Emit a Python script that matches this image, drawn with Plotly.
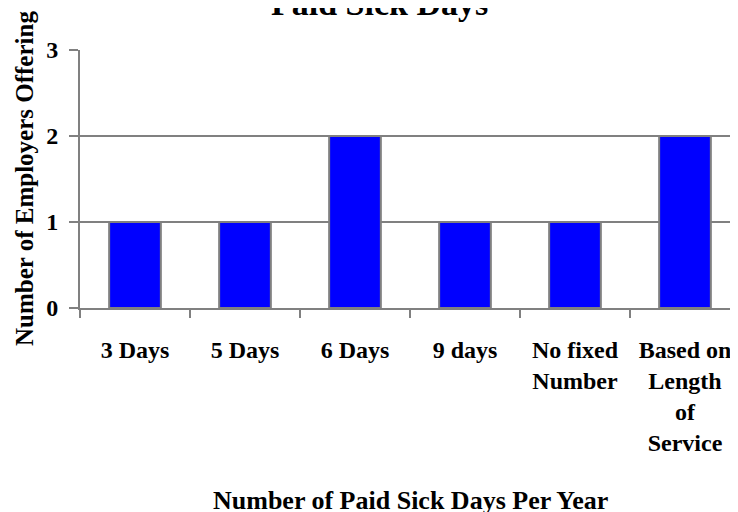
import plotly.graph_objects as go

# Paid sick days survey
categories = ["3 Days", "5 Days", "6 Days", "9 days", "No fixed<br>Number",
              "Based on<br>Length<br>of<br>Service"]
employers = [1, 1, 2, 1, 1, 2]
y_ticks = [0, 1, 2, 3]

FONT = "Liberation Serif, Times New Roman, serif"
GREY = "#808080"

fig = go.Figure()
fig.add_trace(
    go.Bar(
        x=categories,
        y=employers,
        marker=dict(color="#0000FF", line=dict(color=GREY, width=2)),
        width=0.47,
    )
)

# page body adds an 8px offset, so margins are trimmed by 8
fig.update_layout(
    width=738,
    height=512,
    margin=dict(l=72, r=6, t=42, b=212),
    paper_bgcolor="white",
    plot_bgcolor="white",
    showlegend=False,
    font=dict(family=FONT, size=24, color="black", weight="bold"),
    annotations=[
        dict(text="Paid Sick Days", xref="paper", yref="paper", x=0.5, y=1,
             xanchor="center", yanchor="middle", xshift=-31, yshift=47,
             showarrow=False,
             font=dict(family=FONT, size=34, weight="bold")),
        dict(text="Number of Employers Offering", xref="paper", yref="paper",
             x=0, y=0.5, xanchor="center", yanchor="middle", xshift=-56,
             textangle=-90, showarrow=False,
             font=dict(family=FONT, size=25, weight="bold")),
        dict(text="Number of Paid Sick Days Per Year", xref="paper", yref="paper",
             x=0.5, y=0, xanchor="center", yanchor="middle", yshift=-192,
             showarrow=False,
             font=dict(family=FONT, size=26, weight="bold")),
    ],
)

fig.update_xaxes(
    type="category",
    range=[-0.5, 5.5],
    automargin=False,
    tickson="boundaries",
    ticks="outside",
    ticklen=8,
    tickwidth=2,
    tickcolor=GREY,
    showline=True,
    linecolor=GREY,
    linewidth=2,
    showgrid=False,
    ticklabelstandoff=19,
    tickfont=dict(family=FONT, size=24, weight="bold"),
)

fig.update_yaxes(
    range=[0, 3],
    tickvals=y_ticks,
    automargin=False,
    ticks="outside",
    ticklen=9,
    tickwidth=2,
    tickcolor=GREY,
    showline=True,
    linecolor=GREY,
    linewidth=2,
    showgrid=True,
    gridcolor=GREY,
    gridwidth=2,
    zeroline=False,
    ticklabelstandoff=6,
    tickfont=dict(family=FONT, size=24, weight="bold"),
)

fig.write_html("out.html")
